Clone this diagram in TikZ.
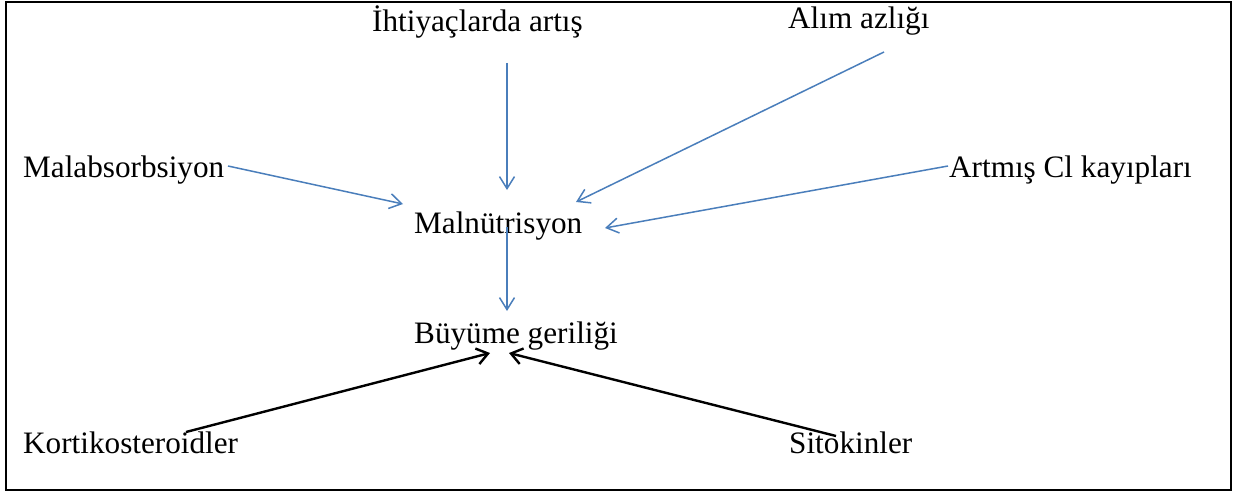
\documentclass[tikz,border=0pt]{standalone}
\usepackage{fontspec}
\setmainfont{Liberation Serif}
\usetikzlibrary{arrows.meta}
\definecolor{wblue}{RGB}{74,126,187}
\begin{document}
\begin{tikzpicture}[x=1pt,y=-1pt,
  lbl/.style={anchor=base west,inner sep=0pt,font=\fontsize{31.2}{36}\selectfont},
  barrow/.style={draw=wblue,line width=1.5pt,-{Straight Barb[length=12pt,width=15pt]}},
  karrow/.style={draw=black,line width=2.4pt,-{Straight Barb[length=11pt,width=16pt]}}]
\useasboundingbox (0,0) rectangle (1239,492);
\draw[line width=2pt] (6,2) rectangle (1231,490);
% labels
\node[lbl] (iht) at (372,32) {İhtiyaçlarda artış};
\node[lbl] (alim) at (788,29) {Alım azlığı};
\node[lbl] (malab) at (23,177) {Malabsorbsiyon};
\node[lbl] (art) at (949,177) {Artmış Cl kayıpları};
\node[lbl] (maln) at (414,233) {Malnütrisyon};
\node[lbl] (buy) at (414,343) {Büyüme geriliği};
\node[lbl] (kort) at (23,453) {Kortikosteroidler};
\node[lbl] (sito) at (789,453) {Sitokinler};
% connector ends
\coordinate (ihtS) at (507,63);   \coordinate (ihtE) at (507,190);
\coordinate (alimS) at (884,52);  \coordinate (alimE) at (576,202);
\coordinate (malabS) at (228,166);\coordinate (malabE) at (403,204);
\coordinate (artS) at (948,166);  \coordinate (artE) at (605,228);
\coordinate (malnS) at (507,227); \coordinate (malnE) at (507,311);
\coordinate (kortS) at (186,432); \coordinate (kortE) at (490,353);
\coordinate (sitoS) at (836,436); \coordinate (sitoE) at (509,353);
% connectors
\draw[barrow] (ihtS) -- (ihtE);
\draw[barrow] (alimS) -- (alimE);
\draw[barrow] (malabS) -- (malabE);
\draw[barrow] (artS) -- (artE);
\draw[barrow] (malnS) -- (malnE);
\draw[karrow] (kortS) -- (kortE);
\draw[karrow] (sitoS) -- (sitoE);
\end{tikzpicture}
\end{document}
